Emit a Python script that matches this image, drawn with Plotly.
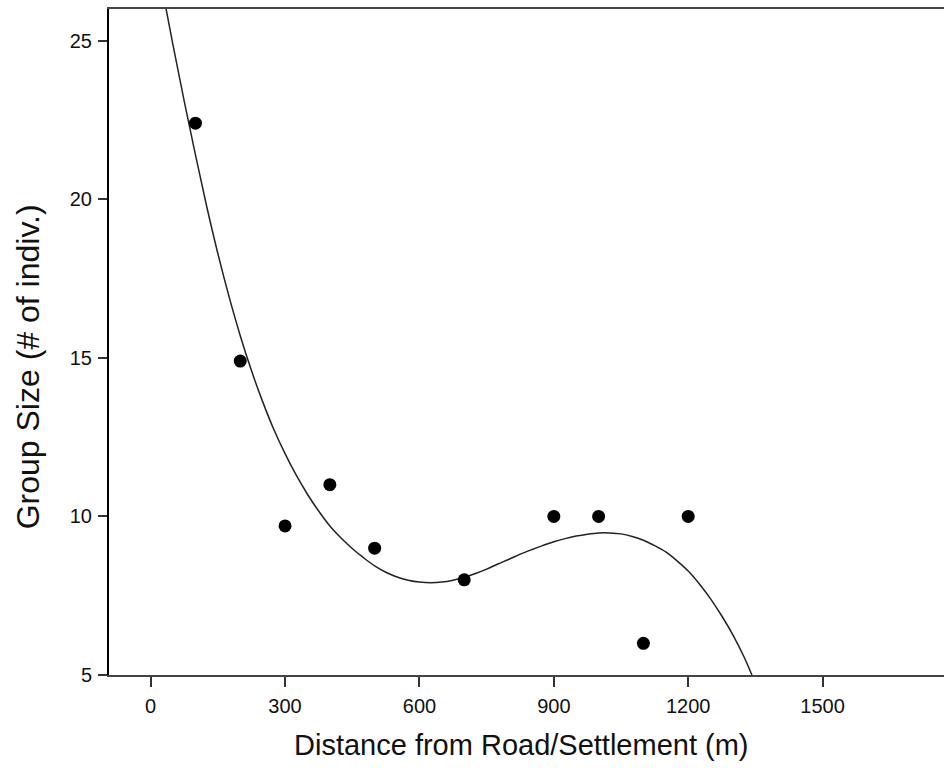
import plotly.graph_objects as go

# Observed data points
distance = [100, 200, 300, 400, 500, 700, 900, 1000, 1100, 1200]
group_size = [22.4, 14.9, 9.7, 11.0, 9.0, 8.0, 10.0, 10.0, 6.0, 10.0]

# Fitted curve (clipped by the plot area at top and bottom)
fit_x = [25, 50, 75, 100, 125, 150, 175, 200, 225, 250, 275, 300, 325, 350, 375, 400, 425,
         450, 475, 500, 525, 550, 575, 600, 625, 650, 675, 700, 725, 750, 775, 800, 825, 850,
         875, 900, 925, 950, 975, 1000, 1025, 1050, 1075, 1100, 1125, 1150, 1175, 1200, 1225,
         1250, 1275, 1300, 1325, 1345]
fit_y = [26.7, 24.85, 23.09, 21.4, 19.78, 18.29, 16.93, 15.70, 14.60, 13.62, 12.74, 11.98,
         11.30, 10.70, 10.17, 9.70, 9.32, 8.99, 8.70, 8.44, 8.24, 8.09, 7.99, 7.93, 7.91, 7.93,
         7.99, 8.08, 8.20, 8.34, 8.50, 8.65, 8.81, 8.95, 9.08, 9.20, 9.30, 9.38, 9.44, 9.48,
         9.48, 9.45, 9.37, 9.25, 9.08, 8.88, 8.60, 8.28, 7.87, 7.40, 6.86, 6.26, 5.56, 4.90]

x_ticks = [0, 300, 600, 900, 1200, 1500]
y_ticks = [5, 10, 15, 20, 25]

FONT = "Liberation Sans, Arial, Helvetica, sans-serif"

fig = go.Figure()
fig.add_trace(go.Scatter(x=fit_x, y=fit_y, mode="lines",
                         line=dict(color="#222222", width=1.5, shape="spline", smoothing=1.0),
                         hoverinfo="skip", showlegend=False))
fig.add_trace(go.Scatter(x=distance, y=group_size, mode="markers",
                         marker=dict(color="black", size=13, line=dict(width=0)),
                         showlegend=False, cliponaxis=False))

fig.update_layout(
    width=944, height=769,
    margin=dict(l=109, r=0, t=9, b=94),
    paper_bgcolor="white", plot_bgcolor="white",
    font=dict(family=FONT, color="#111111"),
    annotations=[
        dict(text="Group Size (# of indiv.)", xref="paper", yref="paper",
             x=-0.097, y=0.462, xanchor="center", yanchor="middle", textangle=-90,
             showarrow=False, font=dict(size=32, family=FONT, color="#111111")),
        dict(text="Distance from Road/Settlement (m)", xref="paper", yref="paper",
             x=0.493, y=-0.105, xanchor="center", yanchor="middle",
             showarrow=False, font=dict(size=29, family=FONT, color="#111111")),
    ],
)
fig.update_xaxes(
    range=[-93, 1771], tickvals=x_ticks, ticktext=[str(v) for v in x_ticks],
    showgrid=False, zeroline=False,
    showline=True, linecolor="#444444", linewidth=2, mirror=True,
    ticks="outside", ticklen=10, tickwidth=1.5, tickcolor="#333333",
    tickfont=dict(size=20), ticklabelstandoff=2,
)
fig.update_yaxes(
    range=[5, 26], tickvals=y_ticks, ticktext=[str(v) for v in y_ticks],
    showgrid=False, zeroline=False,
    showline=True, linecolor="black", linewidth=2, mirror=False,
    ticks="outside", ticklen=9, tickwidth=1.5, tickcolor="#333333",
    tickfont=dict(size=20), ticklabelstandoff=2,
)

fig.write_html("out.html", config={"displayModeBar": False},
               post_script="document.body.style.margin='0';")
